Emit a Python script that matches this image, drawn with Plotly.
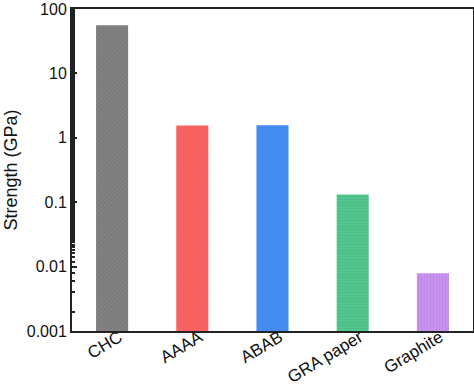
import plotly.graph_objects as go

categories = ["CHC", "AAAA", "ABAB", "GRA paper", "Graphite"]
strength = [56, 1.55, 1.57, 0.132, 0.0079]
colors = ["#7a7a7a", "#fd6262", "#3f89f0", "#52c78d", "#c891f2"]
hatches = ["/", "\\", "x", "-", "|"]
ytick_vals = [0.001, 0.01, 0.1, 1, 10, 100]
ytick_text = ["0.001", "0.01", "0.1", "1", "10", "100"]

fig = go.Figure(go.Bar(
    x=categories, y=strength, width=0.4,
    marker=dict(color=colors, line=dict(width=0),
                pattern=dict(shape=hatches, fgcolor="#000000", fgopacity=0.1, size=3, solidity=0.3)),
))

font = dict(family="Liberation Sans, Arial, sans-serif", size=16, color="#111")
xfont = dict(family="Liberation Sans, Arial, sans-serif", size=17, color="#111")
tfont = dict(family="Liberation Sans, Arial, sans-serif", size=18, color="#111")
fig.update_layout(
    width=474, height=387,
    margin=dict(l=72, r=1, t=9, b=56),
    paper_bgcolor="white", plot_bgcolor="white",
    font=font, showlegend=False,
    xaxis=dict(range=[-0.5, 4.5], showline=True, linecolor="#222", linewidth=2, mirror=True,
               ticks="", tickangle=-31, showgrid=False, tickfont=xfont, automargin=False,
               ticklabelshift=7, ticklabelstandoff=-12),
    yaxis=dict(type="log", range=[-3, 2], showline=True, linecolor="#222", linewidth=2, mirror=True,
               tickvals=ytick_vals, ticktext=ytick_text, ticks="inside", ticklen=5, tickwidth=1.5,
               tickcolor="#222", showgrid=False, tickfont=font, automargin=False,
               minor=dict(ticks="inside", ticklen=3, tickcolor="#222", showgrid=False),
               title=dict(text="Strength (GPa)", font=tfont, standoff=4)),
)
fig.write_html("out.html", config={"displayModeBar": False},
               post_script="document.body.style.margin='0';document.body.style.padding='0';")
